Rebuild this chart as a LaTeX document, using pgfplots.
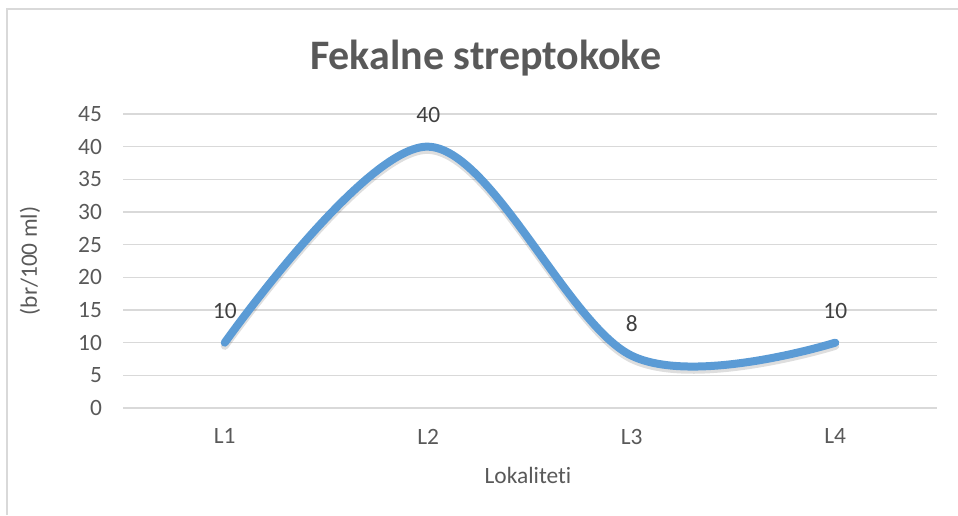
\documentclass[border=0pt]{standalone}
\usepackage{pgfplots}
\pgfplotsset{compat=1.18}
\usepackage{fontspec}
\setmainfont[Ligatures=NoCommon]{Carlito}
\definecolor{txt}{HTML}{595959}
\definecolor{lbl}{HTML}{404040}
\definecolor{gridc}{HTML}{D9D9D9}
\definecolor{linec}{HTML}{5B9BD5}
\begin{document}
\begin{tikzpicture}[x=1pt,y=1pt]
\path[use as bounding box] (0,0) rectangle (479,257.5);
\draw[gridc, line width=1pt] (3.6,0) -- (3.6,253) -- (479,253);
\node[font=\fontsize{21}{24}\selectfont\bfseries, text=txt] at (242.8,228.5) {Fekalne streptokoke};
\node[rotate=90, font=\fontsize{11.7}{14}\selectfont, text=txt] at (15,127) {(br/100 ml)};
\node[font=\fontsize{11.7}{14}\selectfont, text=txt] at (264,20) {Lokaliteti};
\begin{axis}[
  at={(61.5pt,53.5pt)}, anchor=south west,
  scale only axis, width=407pt, height=147pt,
  xmin=0.5, xmax=4.5, ymin=0, ymax=45,
  xtick={1,2,3,4}, xticklabels={L1,L2,L3,L4},
  ytick={0,5,...,45},
  axis line style={draw=none},
  ymajorgrids, grid style={gridc, line width=0.75pt},
  major tick length=0pt,
  tick label style={font=\fontsize{11.7}{14}\selectfont, text=txt},
  /pgf/number format/assume math mode=true,
  yticklabel style={xshift=-7pt},
  xticklabel style={yshift=-6.9pt},
  clip=false,
]
\draw[gridc, line width=0.75pt] (axis cs:0.5,0) -- (axis cs:4.5,0);
\addplot[black, opacity=0.13, line width=4pt, smooth, tension=0.56, line cap=round, line join=round, yshift=-1.6pt, forget plot] coordinates {(1,10) (2,40) (3,8) (4,10)};
\addplot[linec, line width=4pt, smooth, tension=0.56, line cap=round, line join=round,
  nodes near coords,
  every node near coord/.append style={anchor=center, yshift=16pt, font=\fontsize{11.7}{14}\selectfont, text=lbl}]
  coordinates {(1,10) (2,40) (3,8) (4,10)};
\end{axis}
\end{tikzpicture}
\end{document}
